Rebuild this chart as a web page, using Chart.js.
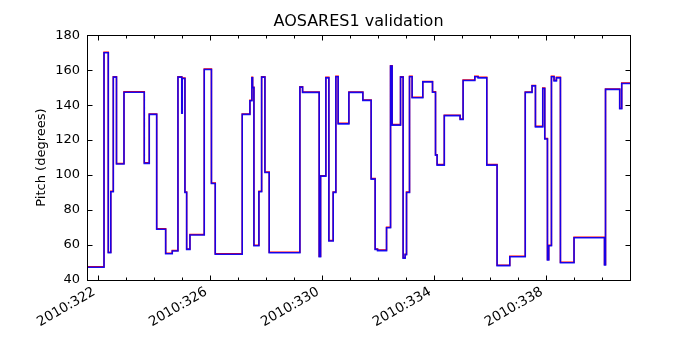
<!DOCTYPE html>
<html><head><meta charset="utf-8">
<script src="https://cdn.jsdelivr.net/npm/chart.js@4/dist/chart.umd.min.js"></script>
<style>html,body{margin:0;padding:0;background:#fff}#wrap{width:700px;height:350px}</style>
</head><body><div id="wrap"><canvas id="c" width="700" height="350"></canvas></div>
<script>
// Day of year 2010 at which each step begins
const days = [321.596, 322.204, 322.357, 322.446, 322.536, 322.650, 322.918, 323.643, 323.821, 324.086,
  324.407, 324.643, 324.846, 324.982, 325.000, 325.096, 325.157, 325.275, 325.786, 326.043,
  326.179, 327.143, 327.418, 327.489, 327.514, 327.561, 327.739, 327.836, 327.954, 328.107,
  329.204, 329.300, 329.893, 329.943, 330.132, 330.239, 330.393, 330.489, 330.571, 330.954,
  331.454, 331.750, 331.893, 331.979, 332.300, 332.443, 332.500, 332.800, 332.893, 332.964,
  333.014, 333.121, 333.214, 333.596, 333.943, 334.050, 334.107, 334.364, 334.929, 335.036,
  335.454, 335.571, 335.882, 336.250, 336.704, 337.257, 337.500, 337.621, 337.882, 337.954,
  338.050, 338.096, 338.193, 338.286, 338.371, 338.514, 339.000, 340.089, 340.125, 340.632,
  340.704, 341.000];
// Pitch (degrees) held from each start day
const pitch = [47.3, 170, 55.6, 90.5, 156, 106.3, 147.4, 106.7, 134.7, 69,
  55, 56.6, 156, 135.4, 155.2, 90.1, 57.5, 65.7, 160.4, 95.2,
  54.7, 134.7, 142.5, 155.6, 150, 59.6, 90.5, 156, 101.5, 55.6,
  150.3, 147.3, 53.3, 99.4, 155.6, 62.3, 90.1, 156.2, 129.3, 147.3,
  142.7, 97.7, 57.5, 56.8, 69.9, 162.3, 128.6, 156, 52.4, 54.5,
  90, 156.2, 144.2, 153.3, 147.4, 111.4, 105.7, 134, 131.8, 154.1,
  156.2, 155.6, 105.7, 48.2, 53.3, 147.3, 151, 127.6, 149.5, 120.6,
  51.4, 59.6, 156.2, 153.9, 155.6, 49.9, 64.2, 48.6, 149, 137.9,
  152.4, 152.4];
const xTickValues = [322, 326, 330, 334, 338];
const xTickLabels = ['2010:322', '2010:326', '2010:330', '2010:334', '2010:338'];
const yTickValues = [40, 60, 80, 100, 120, 140, 160, 180];
const yTickLabels = ['40', '60', '80', '100', '120', '140', '160', '180'];

const pts = days.map((d, i) => ({x: d, y: pitch[i]}));
const FONT = "'DejaVu Sans', sans-serif";

const frameTicks = {
  id: 'frameTicks',
  beforeDatasetDraw(chart, args) {
    if (args.index === 1) { chart.ctx.save(); chart.ctx.translate(0, -0.5); }
  },
  afterDatasetDraw(chart, args) {
    if (args.index === 1) chart.ctx.restore();
  },
  afterDatasetsDraw(chart) {
    const {ctx, chartArea: a, scales: {x, y}} = chart;
    const L = Math.round(a.left) + 0.5, R = Math.round(a.right) + 0.5;
    const T = Math.round(a.top) + 0.5, B = Math.round(a.bottom) + 0.5;
    ctx.save();
    ctx.strokeStyle = '#000';
    ctx.lineWidth = 1;
    ctx.beginPath();
    for (let d = Math.ceil(x.min); d <= Math.floor(x.max); d++) {
      const px = Math.round(x.getPixelForValue(d)) + 0.5;
      const len = xTickValues.includes(d) ? 5 : 3;
      ctx.moveTo(px, B); ctx.lineTo(px, B - len);
      ctx.moveTo(px, T); ctx.lineTo(px, T + len);
    }
    for (const v of yTickValues) {
      const py = Math.round(y.getPixelForValue(v)) + 0.5;
      ctx.moveTo(L, py); ctx.lineTo(L + 5, py);
      ctx.moveTo(R, py); ctx.lineTo(R - 5, py);
    }
    ctx.stroke();
    ctx.strokeRect(L, T, R - L, B - T);
    ctx.restore();
  }
};

new Chart(document.getElementById('c'), {
  type: 'line',
  data: {
    datasets: [
      {label: 'Model', data: pts, stepped: true, borderColor: 'rgba(0,0,255,0.9)', borderWidth: 1.6, pointRadius: 0, fill: false},
      {label: 'Telemetry', data: pts, stepped: true, borderColor: '#ff0000', borderWidth: 1.5, pointRadius: 0, fill: false}
    ]
  },
  options: {
    responsive: false,
    animation: false,
    devicePixelRatio: 1,
    layout: {padding: {left: 0, right: 70, top: 0, bottom: 0}},
    plugins: {
      legend: {display: false},
      tooltip: {enabled: false},
      title: {display: true, text: 'AOSARES1 validation', color: '#000', fullSize: false,
        font: {family: FONT, size: 16, weight: 'normal'}, padding: {top: 12, bottom: 4}}
    },
    scales: {
      x: {
        type: 'linear', min: 321.596, max: 341.0,
        afterBuildTicks: s => { s.ticks = xTickValues.map(v => ({value: v})); },
        afterFit: s => { s.height = 70; },
        grid: {display: false, drawTicks: false},
        border: {display: false},
        ticks: {
          callback: v => { const i = xTickValues.indexOf(v); return i >= 0 ? xTickLabels[i] : ''; },
          maxRotation: 30, minRotation: 30, padding: 4, labelOffset: -4, color: '#000',
          font: {family: FONT, size: 13.5}
        }
      },
      y: {
        type: 'linear', min: 40, max: 180,
        afterBuildTicks: s => { s.ticks = yTickValues.map(v => ({value: v})); },
        afterFit: s => { s.width = 87; },
        grid: {display: false, drawTicks: false},
        border: {display: false},
        title: {display: true, text: 'Pitch (degrees)', color: '#000', font: {family: FONT, size: 13}, padding: {top: 34, bottom: 0}},
        ticks: {
          callback: v => { const i = yTickValues.indexOf(v); return i >= 0 ? yTickLabels[i] : ''; },
          padding: 7, color: '#000', font: {family: FONT, size: 13}
        }
      }
    }
  },
  plugins: [frameTicks]
});
</script>
</body></html>
